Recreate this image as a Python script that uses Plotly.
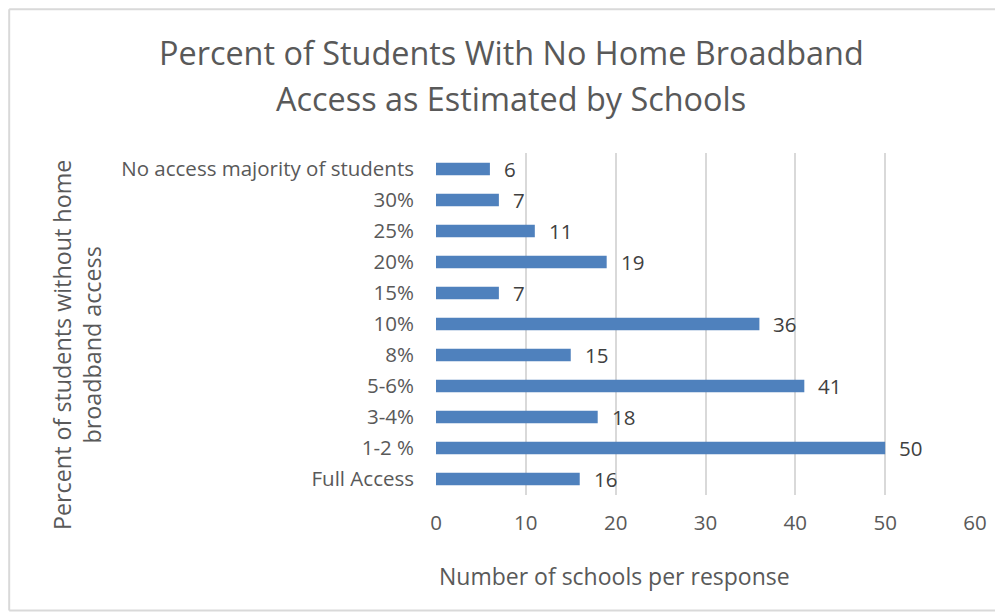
import plotly.graph_objects as go

categories = ["Full Access", "1-2 %", "3-4%", "5-6%", "8%", "10%", "15%",
              "20%", "25%", "30%", "No access majority of students"]
schools = [16, 50, 18, 41, 15, 36, 7, 19, 11, 7, 6]
x_ticks = [0, 10, 20, 30, 40, 50, 60]
title_lines = ["Percent of Students With No Home Broadband",
               "Access as Estimated by Schools"]

W, H = 1003, 613
OFF = 8  # page body margin
# plot area in screenshot pixels: x 436..975, y 153..495
PX0, PX1, PY0, PY1 = 436, 975, 153, 495
L, T = PX0 - OFF, PY0 - OFF
R = W - (PX1 - OFF)
B = H - (PY1 - OFF)
PW, PH = PX1 - PX0, PY1 - PY0

def px(x):
    return (x - PX0) / PW

def py(y):
    return (PY1 - y) / PH

FONT = "Open Sans"
GRAY = "#595959"

fig = go.Figure(go.Bar(
    x=schools, y=categories, orientation="h",
    marker=dict(color="#4F81BD", line=dict(width=0)),
    hoverinfo="x+y",
))

annotations = []
for c, v in zip(categories, schools):
    annotations.append(dict(x=v, y=c, xref="x", yref="y", text=str(v),
                            showarrow=False, xanchor="left", xshift=12,
                            font=dict(family=FONT, size=20.5, color="#404040")))

for line, yc in zip(title_lines, [52, 98]):
    annotations.append(dict(x=px(511), y=py(yc), xref="paper", yref="paper",
                            text=line, showarrow=False, xanchor="center", yanchor="middle",
                            font=dict(family=FONT, size=32.4, color=GRAY)))
annotations.append(dict(x=px(437), y=py(576), xref="paper", yref="paper",
                        text="Number of schools per response", showarrow=False,
                        xanchor="left", yanchor="middle",
                        font=dict(family=FONT, size=23, color=GRAY)))
annotations.append(dict(x=px(77), y=py(345), xref="paper", yref="paper",
                        text="Percent of students without home<br>broadband access",
                        showarrow=False, textangle=-90, xanchor="center", yanchor="middle",
                        font=dict(family=FONT, size=23.3, color=GRAY)))

BORDER = dict(color="#d9d9d9", width=2)
bx0, bx1, by0, by1 = px(9.2), px(1011), py(610.5), py(9.2)
shapes = [
    dict(type="line", xref="paper", yref="paper", x0=bx0, x1=bx1, y0=by1, y1=by1, line=BORDER, layer="below"),
    dict(type="line", xref="paper", yref="paper", x0=bx0, x1=bx1, y0=by0, y1=by0, line=BORDER, layer="below"),
    dict(type="line", xref="paper", yref="paper", x0=bx0, x1=bx0, y0=by0, y1=by1, line=BORDER, layer="below"),
]

fig.update_layout(
    width=W, height=H,
    margin=dict(l=L, r=R, t=T, b=B, autoexpand=False),
    paper_bgcolor="white", plot_bgcolor="white",
    bargap=0.6, showlegend=False,
    annotations=annotations,
    shapes=shapes,
    xaxis=dict(range=[0, 60], tickvals=x_ticks, showgrid=True, gridcolor="#d9d9d9",
               gridwidth=1.5, zeroline=False, showline=False, ticks="",
               ticklabelstandoff=13,
               tickfont=dict(family=FONT, size=20.5, color=GRAY), fixedrange=True),
    yaxis=dict(type="category", categoryorder="array", categoryarray=categories,
               showgrid=False, zeroline=False, showline=False, ticks="",
               ticklabelstandoff=21,
               tickfont=dict(family=FONT, size=20.5, color=GRAY), fixedrange=True),
)

fig.write_html("out.html")
